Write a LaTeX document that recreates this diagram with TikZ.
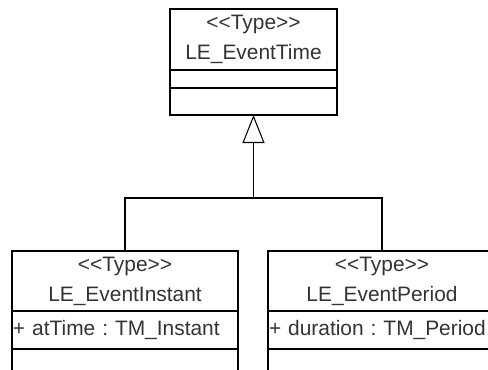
\documentclass[tikz,border=0pt]{standalone}
\usepackage{fontspec}
\setmainfont{Liberation Sans}[Ligatures=TeXOff]
\usetikzlibrary{arrows.meta, positioning}

\begin{document}
\frenchspacing
\begin{tikzpicture}[
  font=\fontsize{11.9}{17}\selectfont,
  line width=0.6pt,
  node distance=0pt,
  outer sep=0pt,
  namebox/.style={draw, align=center, inner sep=0pt, text=black!80},
  attrbox/.style={draw, align=left, inner xsep=0.02cm, inner ysep=0pt, text=black!80},
  inherit/.style={-{Triangle[open, length=0.56cm, width=0.44cm]}}
]
\useasboundingbox (0,0) rectangle (9.76,-7.38);
\clip (0,0) rectangle (9.76,-7.38);

% super type
\node[namebox, minimum width=3.34cm, minimum height=1.22cm] (time) at (5.07,-0.79) {<<Type>>\\LE\_EventTime};
\node[attrbox, text width=3.3cm, minimum height=0.36cm, below=of time] (timeAttr) {};
\node[attrbox, text width=3.3cm, minimum height=0.54cm, below=of timeAttr] (timeOps) {};

% sub types
\node[namebox, minimum width=4.52cm, minimum height=1.2cm] (instant) at (2.5,-5.62) {<<Type>>\\LE\_EventInstant};
\node[attrbox, text width=4.48cm, minimum height=0.76cm, below=of instant] (instantAttr) {+ atTime : TM\_Instant};
\node[attrbox, text width=4.48cm, minimum height=0.6cm, below=of instantAttr] (instantOps) {};

\node[namebox, minimum width=4.56cm, minimum height=1.2cm] (period) at (7.64,-5.62) {<<Type>>\\LE\_EventPeriod};
\node[attrbox, text width=4.52cm, minimum height=0.76cm, below=of period] (periodAttr) {+ duration : TM\_Period};
\node[attrbox, text width=4.52cm, minimum height=0.6cm, below=of periodAttr] (periodOps) {};

% generalization
\coordinate (join) at (5.07,-3.96);
\draw[inherit] (instant.north) |- (join) -- (timeOps.south);
\draw (period.north) |- (join);
\end{tikzpicture}
\end{document}
